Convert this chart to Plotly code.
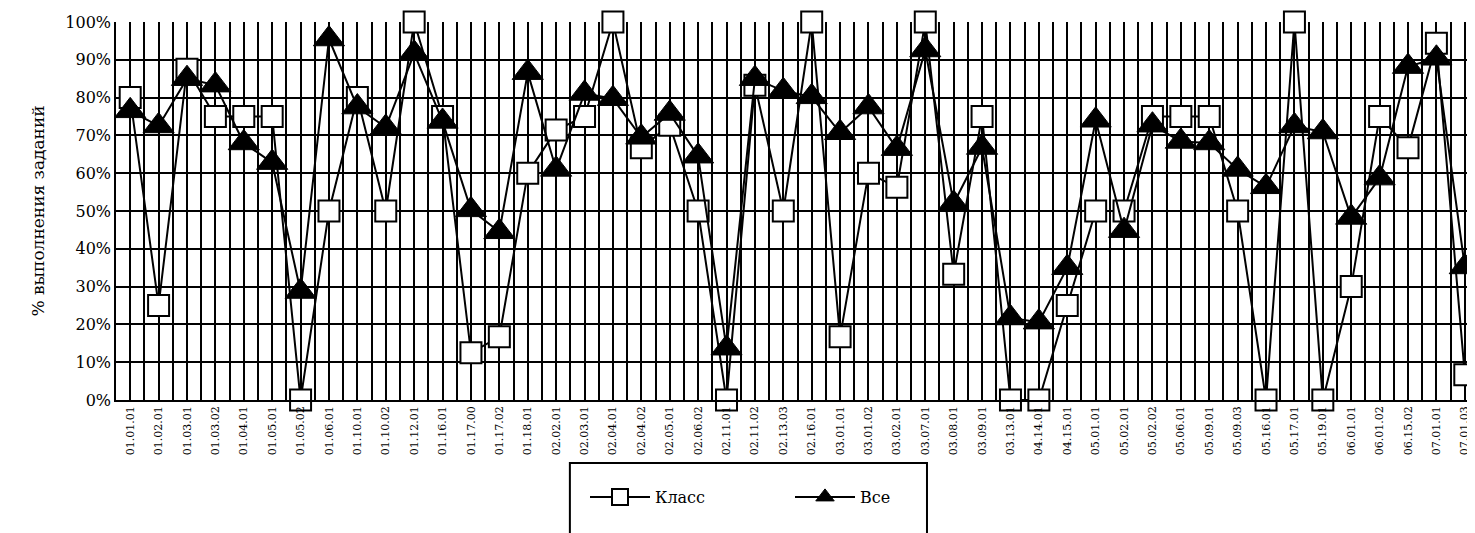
import plotly.graph_objects as go

labels = ["01.01.01", "01.02.01", "01.03.01", "01.03.02", "01.04.01", "01.05.01", "01.05.02",
          "01.06.01", "01.10.01", "01.10.02", "01.12.01", "01.16.01", "01.17.00", "01.17.02",
          "01.18.01", "02.02.01", "02.03.01", "02.04.01", "02.04.02", "02.05.01", "02.06.02",
          "02.11.01", "02.11.02", "02.13.03", "02.16.01", "03.01.01", "03.01.02", "03.02.01",
          "03.07.01", "03.08.01", "03.09.01", "03.13.01", "04.14.01", "04.15.01", "05.01.01",
          "05.02.01", "05.02.02", "05.06.01", "05.09.01", "05.09.03", "05.16.01", "05.17.01",
          "05.19.01", "06.01.01", "06.01.02", "06.15.02", "07.01.01", "07.01.03"]

klass = [80, 25, 87.5, 75, 75, 75, 0, 50, 80, 50, 100, 75, 12.5, 16.7, 60, 71.4, 75, 100, 66.7,
         72.7, 50, 0, 83.3, 50, 100, 16.7, 60, 56.3, 100, 33.3, 75, 0, 0, 25, 50, 50, 75, 75, 75,
         50, 0, 100, 0, 30, 75, 66.7, 94.4, 6.7]

vse = [76.5, 72.5, 85, 83.3, 68, 62.8, 28.7, 95.5, 77.5, 72.1, 91.7, 73.7, 50.3, 44.5, 86.6,
       61, 81.1, 79.7, 69.5, 75.8, 64.5, 13.7, 85, 81.8, 80.2, 70.7, 77.5, 66.5, 92.6, 52, 66.8,
       21.7, 20.6, 35, 74, 44.8, 72.7, 68.4, 68, 61, 56.4, 72.5, 70.9, 48.3, 58.7, 88.2, 90.4, 35.2]

x = list(range(len(labels)))
font_family = "DejaVu Serif"

fig = go.Figure()
fig.add_trace(go.Scatter(
    x=x, y=klass, name="Класс", mode="lines+markers",
    line=dict(color="black", width=2),
    marker=dict(symbol="square", size=21, color="white", line=dict(color="black", width=2)),
    cliponaxis=False,
))
fig.add_trace(go.Scatter(
    x=x, y=vse, name="Все", mode="lines+markers",
    line=dict(color="black", width=2),
    marker=dict(symbol="triangle-up", size=27, color="black", line=dict(color="black", width=1)),
    cliponaxis=False,
))

# legend frame (drawn as a shape, relative to the plot area)
fig.add_shape(type="rect", xref="paper", yref="paper",
              x0=0.333, x1=0.595, y0=-0.60, y1=-0.1667,
              line=dict(color="black", width=2), fillcolor="rgba(0,0,0,0)", layer="above")

fig.update_layout(
    width=1475, height=533,
    margin=dict(l=108, r=4, t=14, b=141, autoexpand=False),
    plot_bgcolor="white", paper_bgcolor="white",
    font=dict(family=font_family, color="black", size=15),
    showlegend=True,
    legend=dict(
        orientation="h", xref="container", yref="container",
        x=577 / 1475, xanchor="left", y=1 - 472 / 533, yanchor="top",
        borderwidth=0, bgcolor="rgba(0,0,0,0)",
        font=dict(size=16, family=font_family), entrywidth=130,
        itemwidth=60,
    ),
    xaxis=dict(
        range=[-0.5, 47.5], tickmode="array", tickvals=x, ticktext=labels,
        tickangle=-90, tickfont=dict(size=11, family=font_family), showgrid=True,
        gridcolor="black", gridwidth=1.5,
        zeroline=False, showline=True, linecolor="black", linewidth=1.5, ticks="",
        minor=dict(tickmode="array", tickvals=[i - 0.5 for i in x] + [47.5], showgrid=True,
                   gridcolor="black", gridwidth=1.5, ticks=""),
    ),
    yaxis=dict(
        range=[0, 100], dtick=10, ticksuffix="%", showgrid=True, gridcolor="black",
        gridwidth=1.5, zeroline=False, showline=True, linecolor="black", linewidth=1.5,
        title=dict(text="% выполнения заданий", font=dict(size=17, family=font_family),
                   standoff=16),
        tickfont=dict(size=16, family=font_family), ticks="",
    ),
)

fig.write_html("out.html")
